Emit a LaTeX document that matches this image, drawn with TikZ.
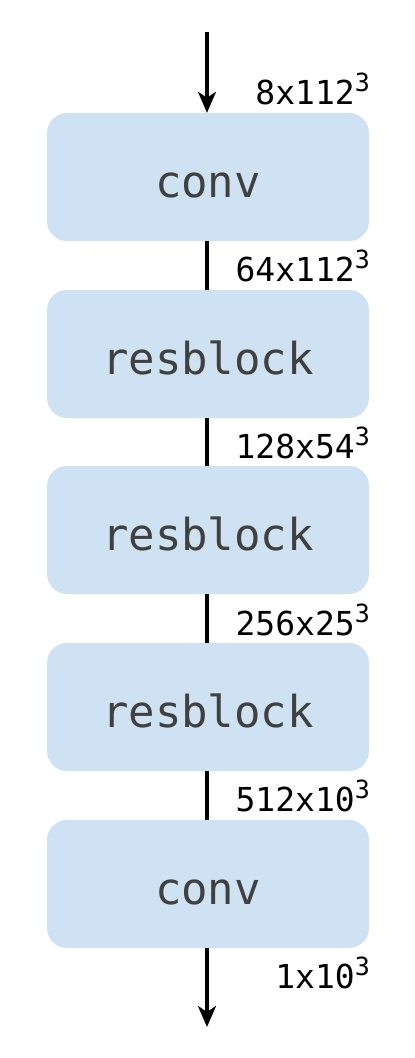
\documentclass[tikz,border=0pt]{standalone}
\usepackage{fontspec}
\setmonofont{DejaVu Sans Mono}
\usetikzlibrary{arrows.meta}
\definecolor{boxblue}{HTML}{CFE2F3}
\definecolor{txtgray}{HTML}{404040}
\begin{document}
\begin{tikzpicture}[x=1pt,y=-1pt,
  blk/.style={fill=boxblue, draw=none, rounded corners=20pt, minimum width=322pt, minimum height=128pt,
    text=txtgray, font=\ttfamily\fontsize{44}{44}\selectfont, inner sep=0pt, text height=41pt, text depth=0pt},
  dim/.style={anchor=base east, inner sep=0pt, font=\ttfamily\fontsize{33}{33}\selectfont},
  conn/.style={line width=3.2pt, draw=black},
  arr/.style={conn, -{Stealth[length=21pt,width=18pt,inset=6pt]}}]
\useasboundingbox (0,0) rectangle (415,1058);
\node[blk] (b1) at (208,177) {conv};
\node[blk] (b2) at (208,354) {resblock};
\node[blk] (b3) at (208,530) {resblock};
\node[blk] (b4) at (208,707) {resblock};
\node[blk] (b5) at (208,884) {conv};
\coordinate (top) at (207,32);
\coordinate (bot) at (207,1027);
\draw[arr] (top) -- (b1.north -| top);
\draw[conn] (b1.south -| top) -- (b2.north -| top);
\draw[conn] (b2.south -| top) -- (b3.north -| top);
\draw[conn] (b3.south -| top) -- (b4.north -| top);
\draw[conn] (b4.south -| top) -- (b5.north -| top);
\draw[arr] (b5.south -| top) -- (bot);
\newcommand{\cube}{\raisebox{13pt}{\fontsize{25}{25}\selectfont 3}}
\node[dim] (l1) at (370,104) {8x112\cube};
\node[dim] (l2) at (370,281) {64x112\cube};
\node[dim] (l3) at (370,458) {128x54\cube};
\node[dim] (l4) at (370,635) {256x25\cube};
\node[dim] (l5) at (370,811) {512x10\cube};
\node[dim] (l6) at (370,988) {1x10\cube};
\end{tikzpicture}
\end{document}
